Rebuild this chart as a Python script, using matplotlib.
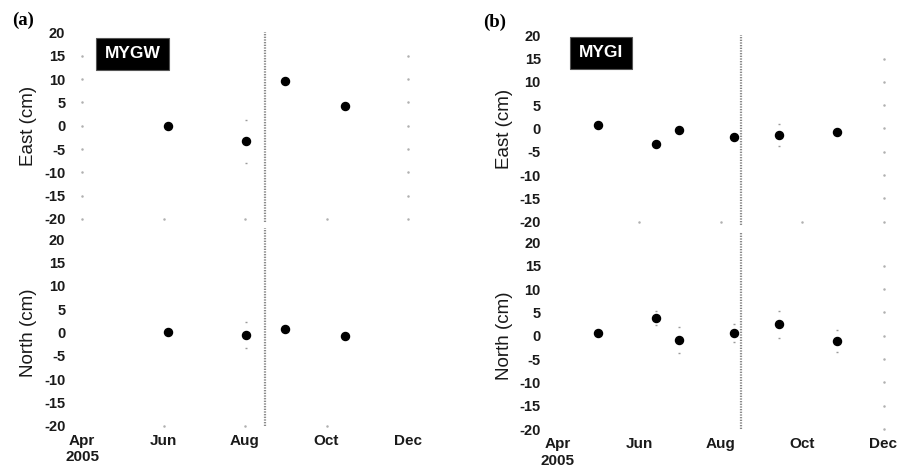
import matplotlib
matplotlib.use("Agg")
import matplotlib.pyplot as plt
import datetime as dt

plt.rcParams['font.family'] = ['Liberation Sans', 'DejaVu Sans']

# ---------------- data ----------------
quake_date = "2005-08-16"
tick_dates = ["2005-04-01", "2005-06-01", "2005-08-01", "2005-10-01", "2005-12-01"]
tick_labels = ["Apr\n2005", "Jun", "Aug", "Oct", "Dec"]
y_ticks = [20, 15, 10, 5, 0, -5, -10, -15, -20]

a_station = "MYGW"
a_dates = ["2005-06-04", "2005-08-02", "2005-08-31", "2005-10-15"]
a_east = [0.0, -3.3, 9.6, 4.2]
a_east_err = [0.5, 4.6, 0.5, 0.5]
a_north = [0.2, -0.5, 0.8, -0.8]
a_north_err = [0.5, 2.8, 0.5, 0.5]

b_station = "MYGI"
b_dates = ["2005-05-01", "2005-06-14", "2005-07-01", "2005-08-11", "2005-09-14", "2005-10-27"]
b_east = [0.7, -3.4, -0.4, -1.8, -1.4, -0.8]
b_east_err = [0.5, 0.5, 0.5, 0.5, 2.4, 0.5]
b_north = [0.5, 3.9, -0.9, 0.6, 2.5, -1.1]
b_north_err = [0.5, 1.5, 2.8, 1.9, 2.9, 2.4]


def to_dates(lst):
    return [dt.datetime.strptime(s, "%Y-%m-%d") for s in lst]


fig = plt.figure(figsize=(9, 4.7), dpi=100)

W = 326 / 900
H = 186.5 / 470
layout = {
    'a_top': [82 / 900, 1 - 219 / 470, W, H],
    'a_bot': [82 / 900, 1 - 425.7 / 470, W, H],
    'b_top': [557.5 / 900, 1 - 221.7 / 470, W, H],
    'b_bot': [557.5 / 900, 1 - 429 / 470, W, H],
}

tdates = to_dates(tick_dates)
qd = to_dates([quake_date])[0]
QLINE = dict(color='#8a8a8a', lw=1.6, ls=(0, (0.6, 0.6)), zorder=1)


def style_axes(ax, ylabel, show_xlabels, dots):
    ax.set_xlim(tdates[0], tdates[-1])
    ax.set_ylim(-20, 20)
    for s in ax.spines.values():
        s.set_visible(False)
    ax.set_yticks(y_ticks)
    ax.set_yticklabels([str(v) for v in y_ticks], fontweight='bold')
    ax.set_xticks(tdates)
    if show_xlabels:
        ax.set_xticklabels(tick_labels, fontweight='bold')
    else:
        ax.set_xticklabels([])
    ax.tick_params(axis='y', length=0, pad=12, labelsize=10.5, colors='#1a1a1a')
    ax.tick_params(axis='x', length=0, pad=6, labelsize=11, colors='#1a1a1a')
    ax.set_ylabel(ylabel, fontsize=13.5, color='#1a1a1a')
    ax.yaxis.set_label_coords(-0.137, 0.5)
    # faint frame dots at tick positions
    dc = '#b0b0b0'
    if 'left' in dots:
        ax.plot([tdates[0]] * (len(y_ticks) - 1), y_ticks[1:], ls='none', marker='.',
                ms=1.6, color=dc, clip_on=False)
    if 'right' in dots:
        ax.plot([tdates[-1]] * (len(y_ticks) - 1), y_ticks[1:], ls='none', marker='.',
                ms=1.6, color=dc, clip_on=False)
    if 'bottom' in dots:
        ax.plot(tdates[1:-1], [y_ticks[-1]] * (len(tdates) - 2), ls='none', marker='.',
                ms=1.6, color=dc, clip_on=False)


def plot_series(ax, dates, vals, errs):
    ax.errorbar(to_dates(dates), vals, yerr=errs, fmt='o', color='black', ms=5.8,
                ecolor='#9a9a9a', elinewidth=0, capsize=0.8, capthick=1.0, zorder=3)


def station_box(ax, name, x, y):
    ax.text(x, y, name, transform=ax.transAxes, ha='center', va='center',
            color='white', fontsize=12.5, fontweight='bold',
            bbox=dict(boxstyle='square,pad=0.5', fc='black', ec='#555555', lw=0.8))


ax1 = fig.add_axes(layout['a_top'])
style_axes(ax1, "East (cm)", False, ['left', 'right', 'bottom'])
plot_series(ax1, a_dates, a_east, a_east_err)
station_box(ax1, a_station, 0.155, 0.885)
ax1.axvline(qd, ymin=-0.017, ymax=1.0, clip_on=False, **QLINE)

ax2 = fig.add_axes(layout['a_bot'])
style_axes(ax2, "North (cm)", True, ['bottom'])
plot_series(ax2, a_dates, a_north, a_north_err)
ax2.axvline(qd, ymin=0.0, ymax=1.058, clip_on=False, **QLINE)

ax3 = fig.add_axes(layout['b_top'])
style_axes(ax3, "East (cm)", False, ['right', 'bottom'])
plot_series(ax3, b_dates, b_east, b_east_err)
station_box(ax3, b_station, 0.133, 0.905)
ax3.axvline(qd, ymin=-0.017, ymax=1.0, clip_on=False, **QLINE)

ax4 = fig.add_axes(layout['b_bot'])
style_axes(ax4, "North (cm)", True, ['right'])
plot_series(ax4, b_dates, b_north, b_north_err)
ax4.axvline(qd, ymin=0.0, ymax=1.058, clip_on=False, **QLINE)

fig.text(23 / 900, 1 - 20 / 470, "(a)", family='Liberation Serif', fontweight='bold',
         fontsize=13.5, ha='center', va='center')
fig.text(495 / 900, 1 - 22 / 470, "(b)", family='Liberation Serif', fontweight='bold',
         fontsize=13.5, ha='center', va='center')

fig.savefig("out.png", dpi=100)
